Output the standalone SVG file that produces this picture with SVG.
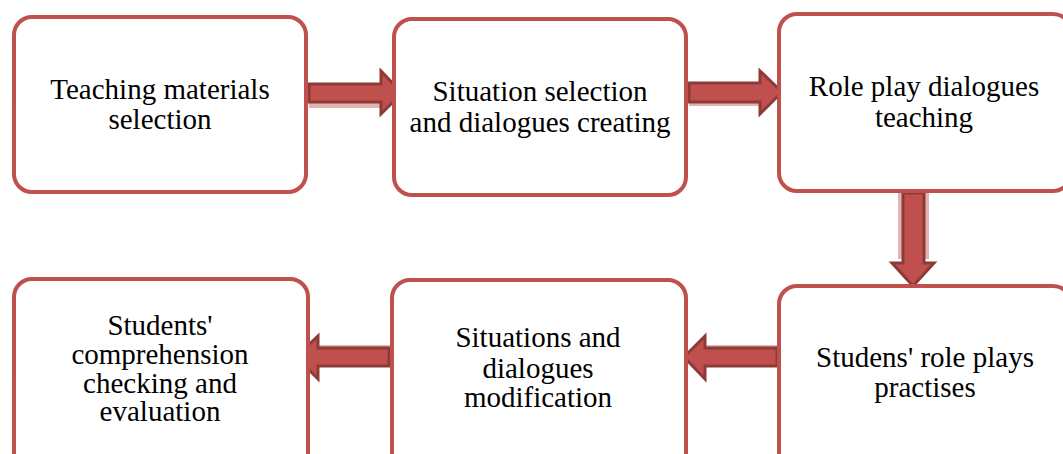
<svg xmlns="http://www.w3.org/2000/svg" width="1063" height="454" viewBox="0 0 1063 454">
<style>
.box{fill:#fff;stroke:#C0504D;stroke-width:4}
.t{font-family:"Liberation Serif","Times New Roman",serif;font-size:29px;fill:#000;text-anchor:middle}
.arr{fill:#C0504D;stroke:#8E3A37;stroke-width:3;stroke-linejoin:miter}
.sh{fill:#D9A09E;opacity:0.8}
</style>
<rect width="1063" height="454" fill="#fff"/>
<g id="connectors">
<rect class="sh" x="309" y="100" width="74" height="8"/>
<path class="arr" d="M309,84 H381 V71 L402,93 L381,114 V102 H309 Z"/>
<rect class="sh" x="689" y="100" width="72" height="6"/>
<path class="arr" d="M689,83 H760 V71 L782,92 L760,114 V102 H689 Z"/>
<rect class="sh" x="898" y="193" width="31" height="66"/>
<path class="arr" d="M903,193 H924 V263 H934 L913,286 L892,263 H903 Z"/>
<rect class="sh" x="318" y="345" width="72" height="7"/>
<path class="arr" d="M389,348 H318 V336 L296,357 L318,379 V366 H389 Z"/>
<rect class="sh" x="705" y="345" width="72" height="6"/>
<path class="arr" d="M777,348 H705 V336 L684,357 L705,379 V366 H777 Z"/>
</g>
<g id="n1"><rect class="box" x="14" y="17" width="292" height="175" rx="18"/>
<text class="t" x="160" y="99">Teaching materials</text><text class="t" x="160" y="129">selection</text></g>
<g id="n2"><rect class="box" x="394" y="19" width="292" height="176" rx="18"/>
<text class="t" x="540" y="101">Situation selection</text><text class="t" x="540" y="132">and dialogues creating</text></g>
<g id="n3"><rect class="box" x="779" y="14" width="292" height="177" rx="18"/>
<text class="t" x="924" y="96">Role play dialogues</text><text class="t" x="924" y="127">teaching</text></g>
<g id="n4"><rect class="box" x="14" y="279" width="294" height="200" rx="18"/>
<text class="t" x="160" y="335">Students'</text><text class="t" x="160" y="364">comprehension</text><text class="t" x="160" y="393">checking and</text><text class="t" x="160" y="421">evaluation</text></g>
<g id="n5"><rect class="box" x="392" y="280" width="294" height="200" rx="18"/>
<text class="t" x="538" y="347">Situations and</text><text class="t" x="538" y="378">dialogues</text><text class="t" x="538" y="407">modification</text></g>
<g id="n6"><rect class="box" x="779" y="286" width="292" height="200" rx="18"/>
<text class="t" x="925" y="367">Studens' role plays</text><text class="t" x="925" y="397">practises</text></g>
</svg>
